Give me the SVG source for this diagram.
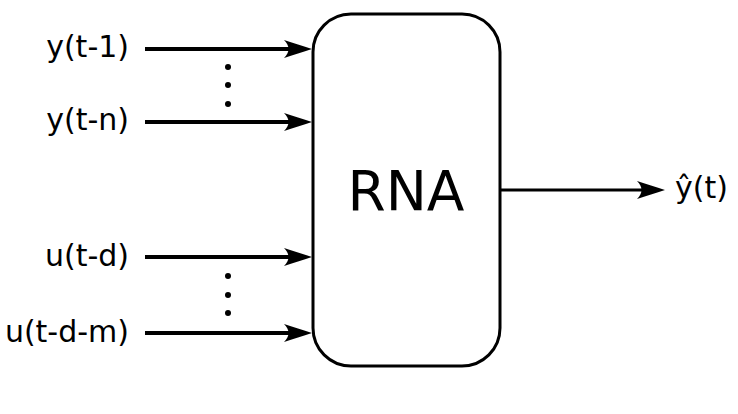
<svg xmlns="http://www.w3.org/2000/svg" width="738" height="414" viewBox="0 0 738 414">
<style>
.lbl{font-family:"DejaVu Sans",Verdana,sans-serif;font-size:30px;fill:#000}
.big{font-family:"DejaVu Sans",Verdana,sans-serif;font-size:55px;fill:#000}
.in{stroke:#000;stroke-width:4;fill:none}
.out{stroke:#000;stroke-width:3;fill:none}
.box{fill:#fff;stroke:#000;stroke-width:3}
</style>
<defs>
<path id="ah" d="M0,0 C-9,-3 -19,-6 -28,-9 C-22,-3 -22,3 -28,9 C-19,6 -9,3 0,0 Z" fill="#000"/>
</defs>
<rect width="738" height="414" fill="#fff"/>
<g id="connectors">
<line class="in" x1="145" y1="49" x2="296" y2="49"/><use href="#ah" x="312" y="49"/>
<line class="in" x1="145" y1="122" x2="296" y2="122"/><use href="#ah" x="312" y="122"/>
<line class="in" x1="145" y1="257" x2="296" y2="257"/><use href="#ah" x="312" y="257"/>
<line class="in" x1="145" y1="333" x2="296" y2="333"/><use href="#ah" x="312" y="333"/>
<line class="out" x1="500" y1="190" x2="650" y2="190"/><use href="#ah" x="665" y="190"/>
</g>
<g id="dots1" fill="#000">
<circle cx="228" cy="67" r="3"/><circle cx="228" cy="85" r="3"/><circle cx="228" cy="104" r="3"/>
</g>
<g id="dots2" fill="#000">
<circle cx="228" cy="276" r="3"/><circle cx="228" cy="295" r="3"/><circle cx="228" cy="313" r="3"/>
</g>
<g id="rna">
<rect class="box" x="313" y="14" width="187" height="352" rx="38" ry="38"/>
<text class="big" x="406" y="210" text-anchor="middle">RNA</text>
</g>
<g id="in_y1"><text class="lbl" x="129" y="57" text-anchor="end">y(t-1)</text></g>
<g id="in_yn"><text class="lbl" x="129" y="130" text-anchor="end">y(t-n)</text></g>
<g id="in_ud"><text class="lbl" x="129" y="266" text-anchor="end">u(t-d)</text></g>
<g id="in_udm"><text class="lbl" x="129" y="342" text-anchor="end">u(t-d-m)</text></g>
<g id="out_y"><text class="lbl" x="675" y="198">ŷ(t)</text></g>
</svg>
